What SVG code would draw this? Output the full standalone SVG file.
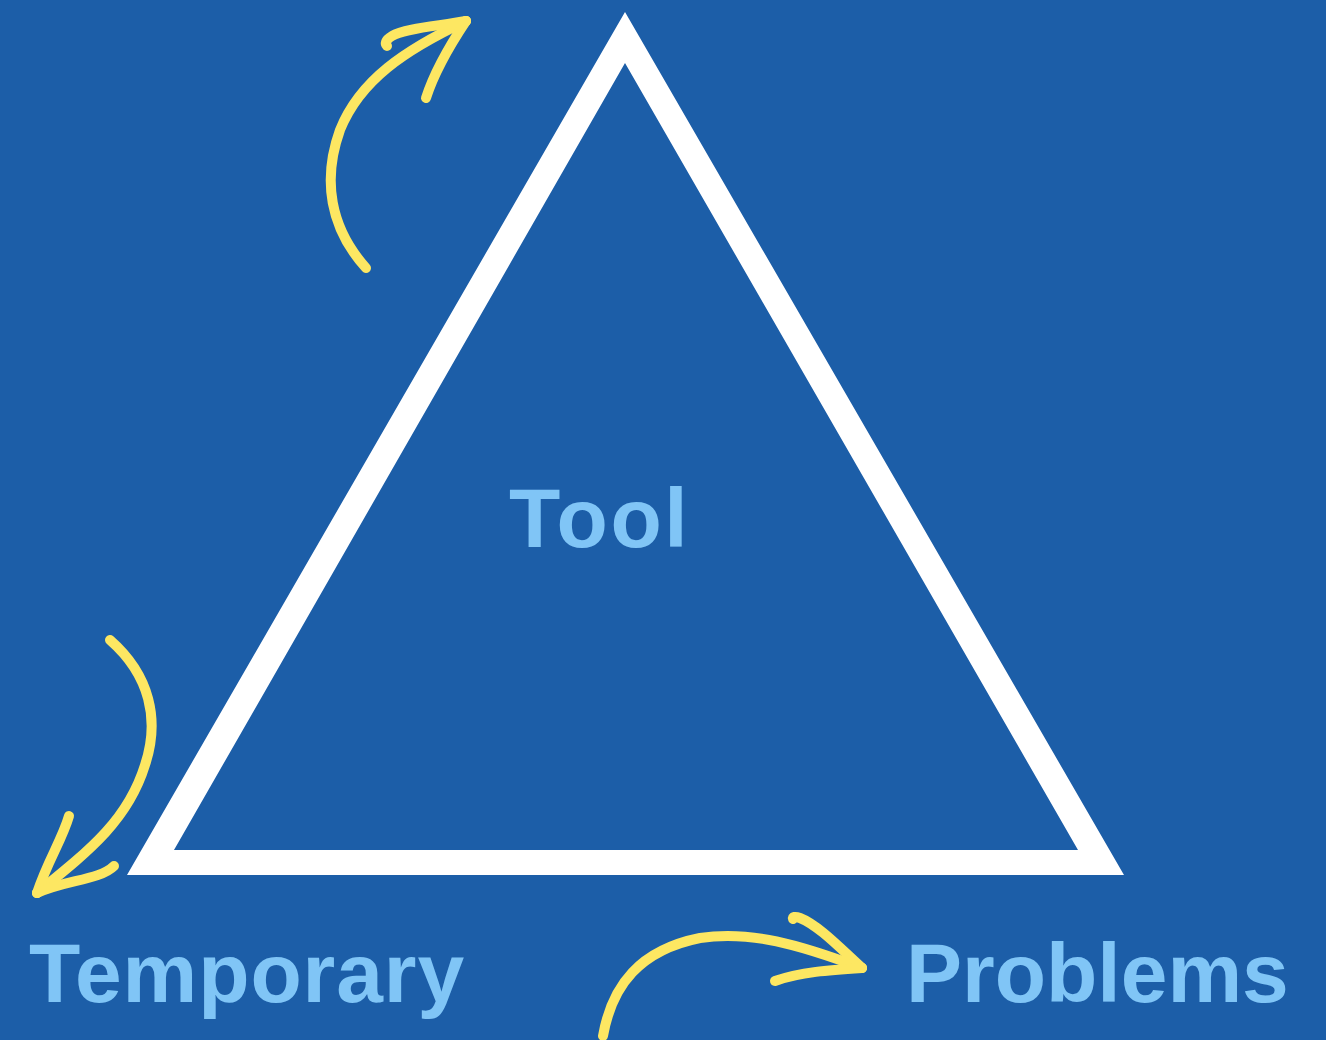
<svg xmlns="http://www.w3.org/2000/svg" width="1326" height="1040" viewBox="0 0 1326 1040">
<style>
.lbl{font-family:"Liberation Sans",Arial,sans-serif;font-weight:bold;font-size:84px;fill:#80C5F6}
.arr{fill:none;stroke:#FDE762;stroke-width:10;stroke-linecap:round;stroke-linejoin:round}
</style>
<rect x="0" y="0" width="1326" height="1040" fill="#1C5EA8"/>
<g id="triangle">
<path d="M625,12 L1124,875 L127,875 Z M625,63 L174,850 L1078,850 Z" fill="#FFFFFF" fill-rule="evenodd"/>
</g>
<g id="node-tool"><text class="lbl" x="509" y="547" letter-spacing="2.5">Tool</text></g>
<g id="node-temporary"><text class="lbl" x="29" y="1002" letter-spacing="0.9">Temporary</text></g>
<g id="node-problems"><text class="lbl" x="906" y="1002">Problems</text></g>
<g id="connectors">
<path class="arr" d="M366,268 C330,228 322,180 340,130 C360,80 405,50 466,21"/>
<path class="arr" d="M466,21 C440,26 405,28 392,36 C385,40 385,44 387,46"/>
<path class="arr" d="M466,21 C450,45 435,70 426,98"/>
<path class="arr" d="M110,640 C150,675 160,720 145,765 C128,820 90,850 37,893"/>
<path class="arr" d="M37,893 C48,860 62,840 69,816"/>
<path class="arr" d="M37,893 C65,880 100,880 114,866"/>
<path class="arr" d="M603,1036 C612,985 640,950 700,938 C750,930 800,945 862,968"/>
<path class="arr" d="M862,968 C840,948 818,925 800,918 C795,916 792,917 793,919"/>
<path class="arr" d="M862,968 C830,970 800,972 775,981"/>
</g>
</svg>
